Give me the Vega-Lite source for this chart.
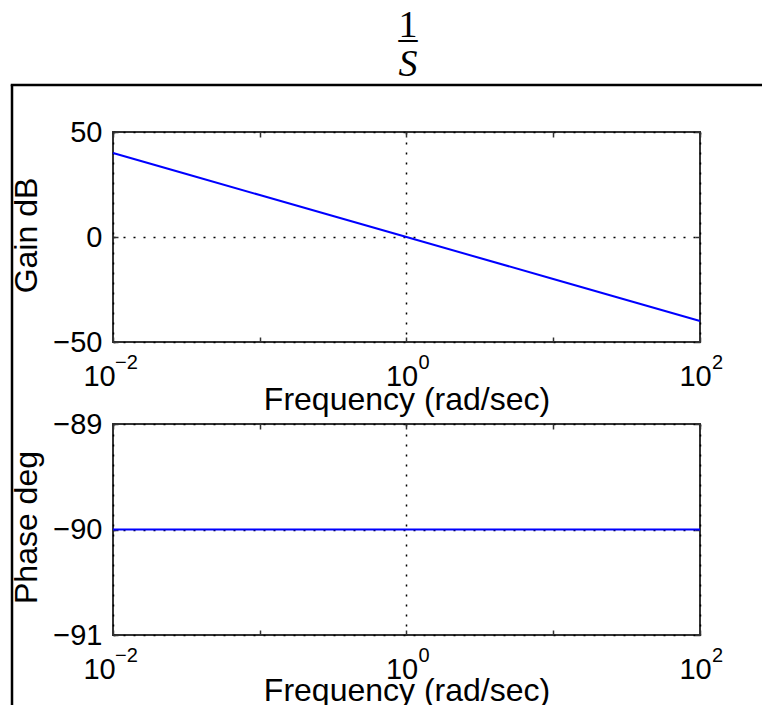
{
  "$schema": "https://vega.github.io/schema/vega-lite/v6.json",
  "padding": {"left": 9, "top": 7, "right": 0, "bottom": 0},
  "background": "white",
  "datasets": {
    "gain": [
      {"w": 0.01, "g": 40}, {"w": 0.0316, "g": 30}, {"w": 0.1, "g": 20}, {"w": 0.316, "g": 10},
      {"w": 1, "g": 0}, {"w": 3.16, "g": -10}, {"w": 10, "g": -20}, {"w": 31.6, "g": -30}, {"w": 100, "g": -40}
    ],
    "phase": [
      {"w": 0.01, "p": -90}, {"w": 0.1, "p": -90}, {"w": 1, "p": -90}, {"w": 10, "p": -90}, {"w": 100, "p": -90}
    ]
  },
  "config": {
    "font": "Liberation Sans",
    "view": {"stroke": "#333", "strokeWidth": 2},
    "axis": {
      "labelFont": "Liberation Sans", "titleFont": "Liberation Sans",
      "labelColor": "#000", "titleColor": "#000", "titleFontWeight": "normal",
      "domain": false, "tickColor": "#333", "tickSize": -5, "tickWidth": 1.5,
      "grid": false, "labelFontSize": 29, "titleFontSize": 32,
      "labelOverlap": false, "labelFlush": false
    }
  },
  "title": {
    "text": ["1"],
    "subtitle": ["–", "S"],
    "anchor": "start", "frame": "group", "align": "center", "dx": 396,
    "font": "Liberation Serif", "fontSize": 38, "fontWeight": "normal", "color": "#000",
    "subtitleFont": "Liberation Serif", "subtitleFontSize": 38, "subtitleFontStyle": "italic",
    "subtitleColor": "#000", "subtitleLineHeight": 26, "subtitlePadding": -25.5, "offset": 0
  },
  "spacing": 0,
  "bounds": "flush",
  "vconcat": [
    {"width": 750, "height": 0.01, "data": {"values": []}, "mark": "point", "encoding": {},
     "view": {"stroke": "#000", "strokeWidth": 2.5}},
    {"bounds": "flush", "spacing": 100, "hconcat": [
      {"width": 0.01, "height": 620, "data": {"values": []}, "mark": "point", "encoding": {},
       "view": {"stroke": "#000", "strokeWidth": 2.5}},
      {"bounds": "flush", "spacing": 45, "vconcat": [
        {"width": 1, "height": 1, "data": {"values": []}, "mark": "point", "encoding": {},
         "view": {"stroke": null}},
        {"bounds": "flush", "spacing": 82, "vconcat": [
          {
            "width": 587, "height": 210,
            "data": {"name": "gain"},
            "resolve": {"axis": {"x": "independent", "y": "independent"}},
            "layer": [
              {"mark": {"type": "line", "color": "#0000ff", "strokeWidth": 2},
               "encoding": {
                 "x": {"field": "w", "type": "quantitative", "scale": {"type": "log", "domain": [0.01, 100]},
                   "axis": {"orient": "bottom", "values": [0.01, 0.1, 1, 10, 100],
                     "labelExpr": "(datum.value < 0.05 || (datum.value > 0.5 && datum.value < 2) || datum.value > 50) ? '10' : ''",
                     "labelPadding": 25, "labelOverlap": false,
                     "labelOffset": {"condition": {"test": "datum.value < 0.05", "value": -14}, "value": -5},
                     "title": "Frequency (rad/sec)", "titleX": 293.5, "titleY": 67, "titleBaseline": "alphabetic", "titleAlign": "center"}},
                 "y": {"field": "g", "type": "quantitative", "scale": {"domain": [-50, 50]},
                   "axis": {"orient": "left", "values": [-50, 0, 50], "labelOverlap": false,
                     "labelExpr": "datum.value < 0 ? '−' + abs(datum.value) : '' + datum.value",
                     "labelPadding": 16,
                     "title": "Gain dB", "titleX": -102, "titleY": 103, "titleBaseline": "top", "titleAlign": "center", "titleAngle": 270,
                     "grid": true, "gridDash": [2, 8], "gridColor": "#000", "gridWidth": 1.5}}
               }},
              {"mark": {"type": "line", "opacity": 0},
               "encoding": {
                 "x": {"field": "w", "type": "quantitative",
                   "axis": {"orient": "bottom", "values": [0.01, 1, 100], "labelOverlap": false,
                     "labelExpr": "datum.value < 0.05 ? '−2' : (datum.value > 50 ? '2' : '0')",
                     "labelFontSize": 20, "ticks": false, "labelPadding": 10.5,
                     "labelOffset": {"condition": {"test": "datum.value < 0.05", "value": 13}, "value": 17},
                     "title": null, "grid": true, "gridDash": [2, 8], "gridColor": "#000", "gridWidth": 1.5}},
                 "y": {"field": "g", "type": "quantitative",
                   "axis": {"orient": "right", "values": [-50, 0, 50], "labels": false, "title": null}}
               }},
              {"mark": {"type": "line", "opacity": 0},
               "encoding": {
                 "x": {"field": "w", "type": "quantitative",
                   "axis": {"orient": "top", "values": [0.01, 0.1, 1, 10, 100], "labels": false, "title": null}},
                 "y": {"field": "g", "type": "quantitative", "axis": null}
               }}
            ]
          },
          {
            "width": 587, "height": 211,
            "data": {"name": "phase"},
            "resolve": {"axis": {"x": "independent", "y": "independent"}},
            "layer": [
              {"mark": {"type": "line", "color": "#0000ff", "strokeWidth": 2},
               "encoding": {
                 "x": {"field": "w", "type": "quantitative", "scale": {"type": "log", "domain": [0.01, 100]},
                   "axis": {"orient": "bottom", "values": [0.01, 0.1, 1, 10, 100], "labelOverlap": false,
                     "labelExpr": "(datum.value < 0.05 || (datum.value > 0.5 && datum.value < 2) || datum.value > 50) ? '10' : ''",
                     "labelPadding": 25,
                     "labelOffset": {"condition": {"test": "datum.value < 0.05", "value": -14}, "value": -5},
                     "title": "Frequency (rad/sec)", "titleX": 293.5, "titleY": 65, "titleBaseline": "alphabetic", "titleAlign": "center"}},
                 "y": {"field": "p", "type": "quantitative", "scale": {"domain": [-91, -89]},
                   "axis": {"orient": "left", "values": [-91, -90, -89], "labelOverlap": false,
                     "labelExpr": "datum.value < 0 ? '−' + abs(datum.value) : '' + datum.value",
                     "labelPadding": 16,
                     "title": "Phase deg", "titleX": -102, "titleY": 103, "titleBaseline": "top", "titleAlign": "center", "titleAngle": 270,
                     "grid": true, "gridDash": [2, 8], "gridColor": "#000", "gridWidth": 1.5}}
               }},
              {"mark": {"type": "line", "opacity": 0},
               "encoding": {
                 "x": {"field": "w", "type": "quantitative",
                   "axis": {"orient": "bottom", "values": [0.01, 1, 100], "labelOverlap": false,
                     "labelExpr": "datum.value < 0.05 ? '−2' : (datum.value > 50 ? '2' : '0')",
                     "labelFontSize": 20, "ticks": false, "labelPadding": 10.5,
                     "labelOffset": {"condition": {"test": "datum.value < 0.05", "value": 13}, "value": 17},
                     "title": null, "grid": true, "gridDash": [2, 8], "gridColor": "#000", "gridWidth": 1.5}},
                 "y": {"field": "p", "type": "quantitative",
                   "axis": {"orient": "right", "values": [-91, -90, -89], "labels": false, "title": null}}
               }},
              {"mark": {"type": "line", "opacity": 0},
               "encoding": {
                 "x": {"field": "w", "type": "quantitative",
                   "axis": {"orient": "top", "values": [0.01, 0.1, 1, 10, 100], "labels": false, "title": null}},
                 "y": {"field": "p", "type": "quantitative", "axis": null}
               }}
            ]
          }
        ]}
      ]}
    ]}
  ]
}
